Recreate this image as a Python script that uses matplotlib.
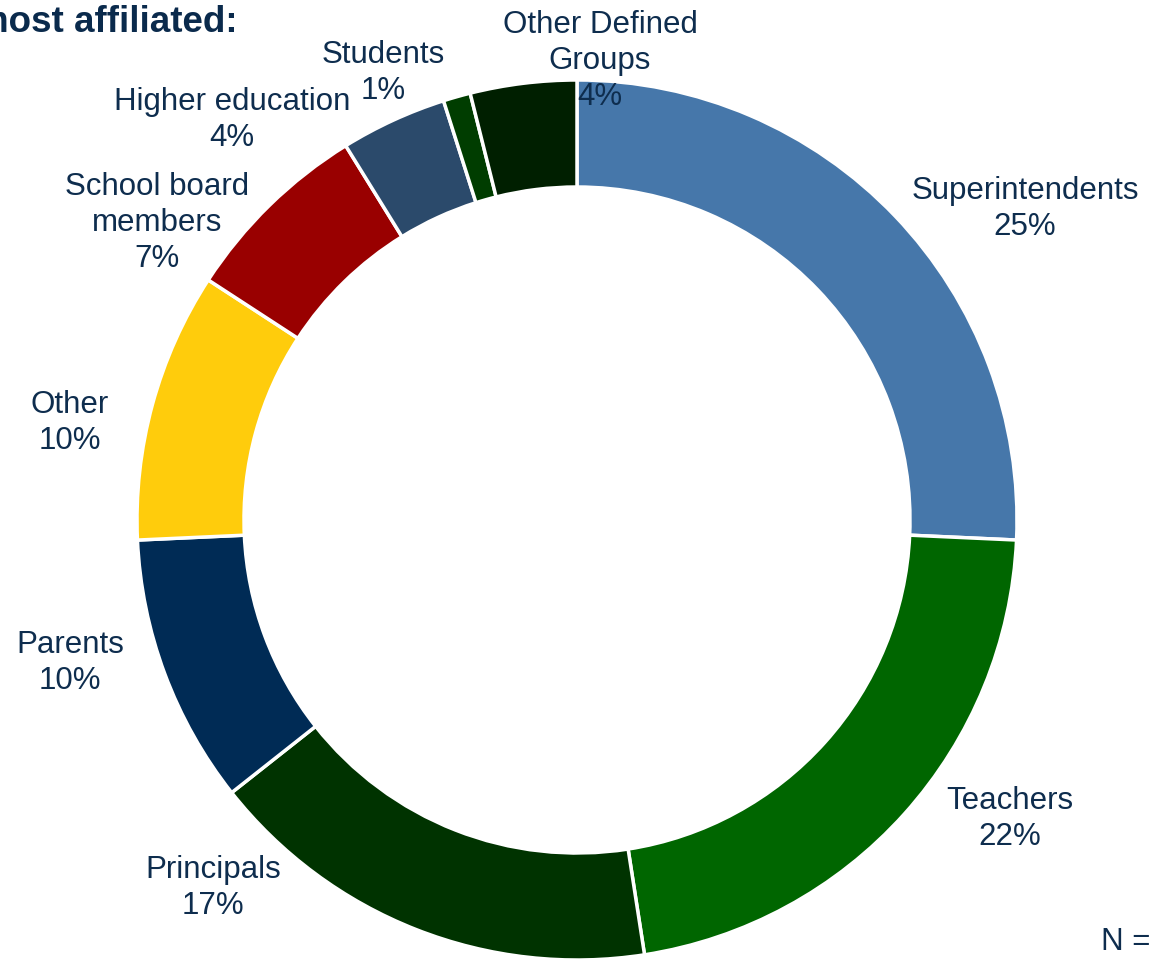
import matplotlib
matplotlib.use('Agg')
import matplotlib.pyplot as plt

# slice data, clockwise from 12 o'clock
groups = ['Superintendents', 'Teachers', 'Principals', 'Parents', 'Other',
          'School board\nmembers', 'Higher education', 'Students', 'Other Defined\nGroups']
shares = [25.7, 21.8, 16.8, 9.9, 9.9, 7.0, 3.9, 1.0, 3.9]
pct_labels = ['25%', '22%', '17%', '10%', '10%', '7%', '4%', '1%', '4%']
colors = ['#4677AA', '#006600', '#003300', '#002B55', '#FFCC0C',
          '#990000', '#2B4A6B', '#003D00', '#001F00']

# label anchors in pixel coords (x, y from top)
label_pos = [(1025, 209), (1010, 819), (213, 888), (70, 663), (70, 423),
             (157, 223), (232, 120), (383, 73), (600, 61)]

W, H = 1157, 960
txt_color = '#0E2D4E'
plt.rcParams['font.family'] = ['Liberation Sans', 'DejaVu Sans']

fig = plt.figure(figsize=(W / 100, H / 100), dpi=100)
ax = fig.add_axes([0, 0, 1, 1])

cx, cy, R = 577, H - 520, 440
ax.pie(shares, colors=colors, startangle=90, counterclock=False,
       center=(cx, cy), radius=R,
       wedgeprops=dict(width=107, edgecolor='white', linewidth=2.5))

for g, p, (x, y) in zip(groups, pct_labels, label_pos):
    ax.text(x, H - y, g + '\n' + p, ha='center', va='center', fontsize=22.5,
            color=txt_color, linespacing=1.28)

ax.set_xlim(0, W)
ax.set_ylim(0, H)
ax.set_aspect('equal')
ax.axis('off')

# title runs off the left edge in the original too
ax.text(238, H - 22, 'most affiliated:', ha='right', va='center', fontsize=26.5,
        fontweight='bold', color='#0A2A4C')
ax.text(1150, H - 942, 'N =', ha='right', va='center', fontsize=22.5, color=txt_color)

fig.savefig('out.png', dpi=100)
